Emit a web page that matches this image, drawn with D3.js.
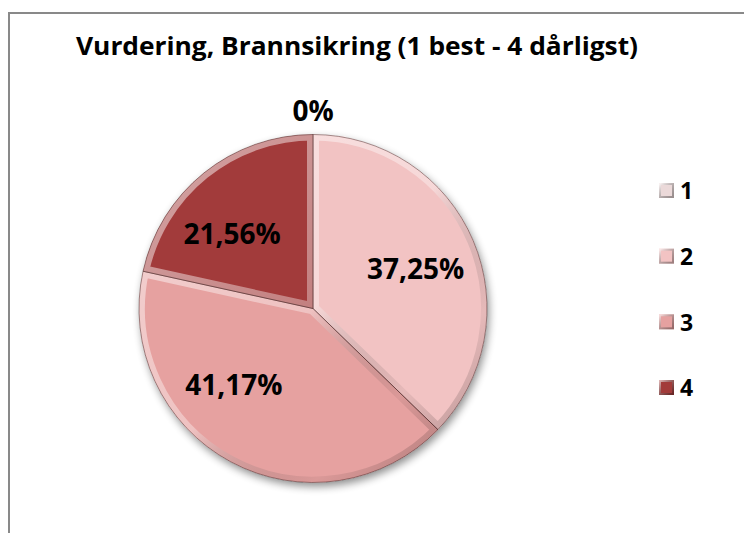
<!DOCTYPE html>
<html><head><meta charset="utf-8">
<script src="https://cdn.jsdelivr.net/npm/d3@7/dist/d3.min.js"></script>
<style>body{margin:0;background:#fff}svg{display:block}text{font-family:"Open Sans",sans-serif;font-weight:bold;fill:#000}</style>
</head><body>
<svg id="c" width="744" height="533"></svg>
<script>
const categories = ["1", "2", "3", "4"];
const values = [0, 37.25, 41.17, 21.56];
const labels = ["0%", "37,25%", "41,17%", "21,56%"];
const colors = ["#EBD9D9", "#F2C3C3", "#E6A1A0", "#A23B3A"];
const titleText = "Vurdering, Brannsikring (1 best - 4 dårligst)";

const svg = d3.select("#c");
const defs = svg.append("defs");

// frame
svg.append("rect").attr("x", 9).attr("y", 13).attr("width", 800).attr("height", 600)
  .attr("fill", "#fff").attr("stroke", "#898989").attr("stroke-width", 2);

// title, fitted to reference width
svg.append("text").attr("x", 357).attr("y", 55).attr("text-anchor", "middle")
  .attr("textLength", 562).attr("lengthAdjust", "spacingAndGlyphs")
  .style("font-size", "25.5px").text(titleText);

const cx = 313, cy = 308.5, R = 174;
const g = svg.append("g").attr("transform", `translate(${cx},${cy})`);

defs.append("filter").attr("id", "shadow").attr("x", "-20%").attr("y", "-20%").attr("width", "140%").attr("height", "140%")
  .html('<feGaussianBlur in="SourceAlpha" stdDeviation="4"/><feOffset dx="2" dy="4" result="ob"/><feComponentTransfer><feFuncA type="linear" slope="0.45"/></feComponentTransfer><feMerge><feMergeNode/><feMergeNode in="SourceGraphic"/></feMerge>');

const lg = defs.append("linearGradient").attr("id", "bev").attr("gradientUnits", "userSpaceOnUse")
  .attr("x1", -R).attr("y1", -R).attr("x2", R).attr("y2", R);
lg.append("stop").attr("offset", "0").attr("stop-color", "#fff").attr("stop-opacity", 0.55);
lg.append("stop").attr("offset", "0.5").attr("stop-color", "#fff").attr("stop-opacity", 0.35);
lg.append("stop").attr("offset", "0.75").attr("stop-color", "#000").attr("stop-opacity", 0.05);
lg.append("stop").attr("offset", "1").attr("stop-color", "#000").attr("stop-opacity", 0.3);

const pie = d3.pie().sort(null).value(d => d)(values);
const arc = d3.arc().innerRadius(0).outerRadius(R);

const pg = g.append("g").attr("filter", "url(#shadow)");
pie.forEach((p, i) => {
  if (p.endAngle - p.startAngle <= 0) return;
  const d = arc(p);
  defs.append("clipPath").attr("id", "clip" + i).append("path").attr("d", d).attr("transform", `translate(${cx},${cy})`);
  pg.append("path").attr("d", d).attr("fill", colors[i]);
});
pie.forEach((p, i) => {
  if (p.endAngle - p.startAngle <= 0) return;
  const d = arc(p);
  g.append("g").attr("clip-path", `url(#clip${i})`).attr("transform", `translate(${-cx},${-cy})`)
    .append("path").attr("d", d).attr("transform", `translate(${cx},${cy})`)
    .attr("fill", "none").attr("stroke", "url(#bev)").attr("stroke-width", 12).attr("stroke-linejoin", "round");
  g.append("path").attr("d", d).attr("fill", "none").attr("stroke", "rgba(60,20,20,0.45)").attr("stroke-width", 1);
});

// data labels
const labelR = 110;
const angleShift = [0, 0.03, 0.31, -0.15];
pie.forEach((p, i) => {
  const zero = p.endAngle - p.startAngle <= 0;
  const a = (p.startAngle + p.endAngle) / 2 + angleShift[i];
  const r = zero ? R + 24 : labelR;
  const x = r * Math.sin(a), y = -r * Math.cos(a);
  g.append("text").attr("x", x).attr("y", y).attr("text-anchor", "middle").attr("dy", "0.36em")
    .style("font-size", "28px").text(labels[i]);
});

// legend
const ly = d3.scalePoint().domain(categories).range([191, 388]);
const leg = svg.append("g");
categories.forEach((c, i) => {
  const y = ly(c);
  const gr = defs.append("linearGradient").attr("id", "lgb" + i).attr("x1", 0).attr("y1", 0).attr("x2", 1).attr("y2", 1);
  gr.append("stop").attr("offset", 0).attr("stop-color", "#fff").attr("stop-opacity", 0.6);
  gr.append("stop").attr("offset", 1).attr("stop-color", "#000").attr("stop-opacity", 0.35);
  leg.append("rect").attr("x", 659).attr("y", y - 8).attr("width", 15).attr("height", 15).attr("fill", colors[i]);
  leg.append("rect").attr("x", 660).attr("y", y - 7).attr("width", 13).attr("height", 13)
    .attr("fill", "none").attr("stroke", `url(#lgb${i})`).attr("stroke-width", 2);
  leg.append("text").attr("x", 680).attr("y", y).attr("dy", "0.36em").style("font-size", "23px").text(c);
});
</script>
</body></html>
